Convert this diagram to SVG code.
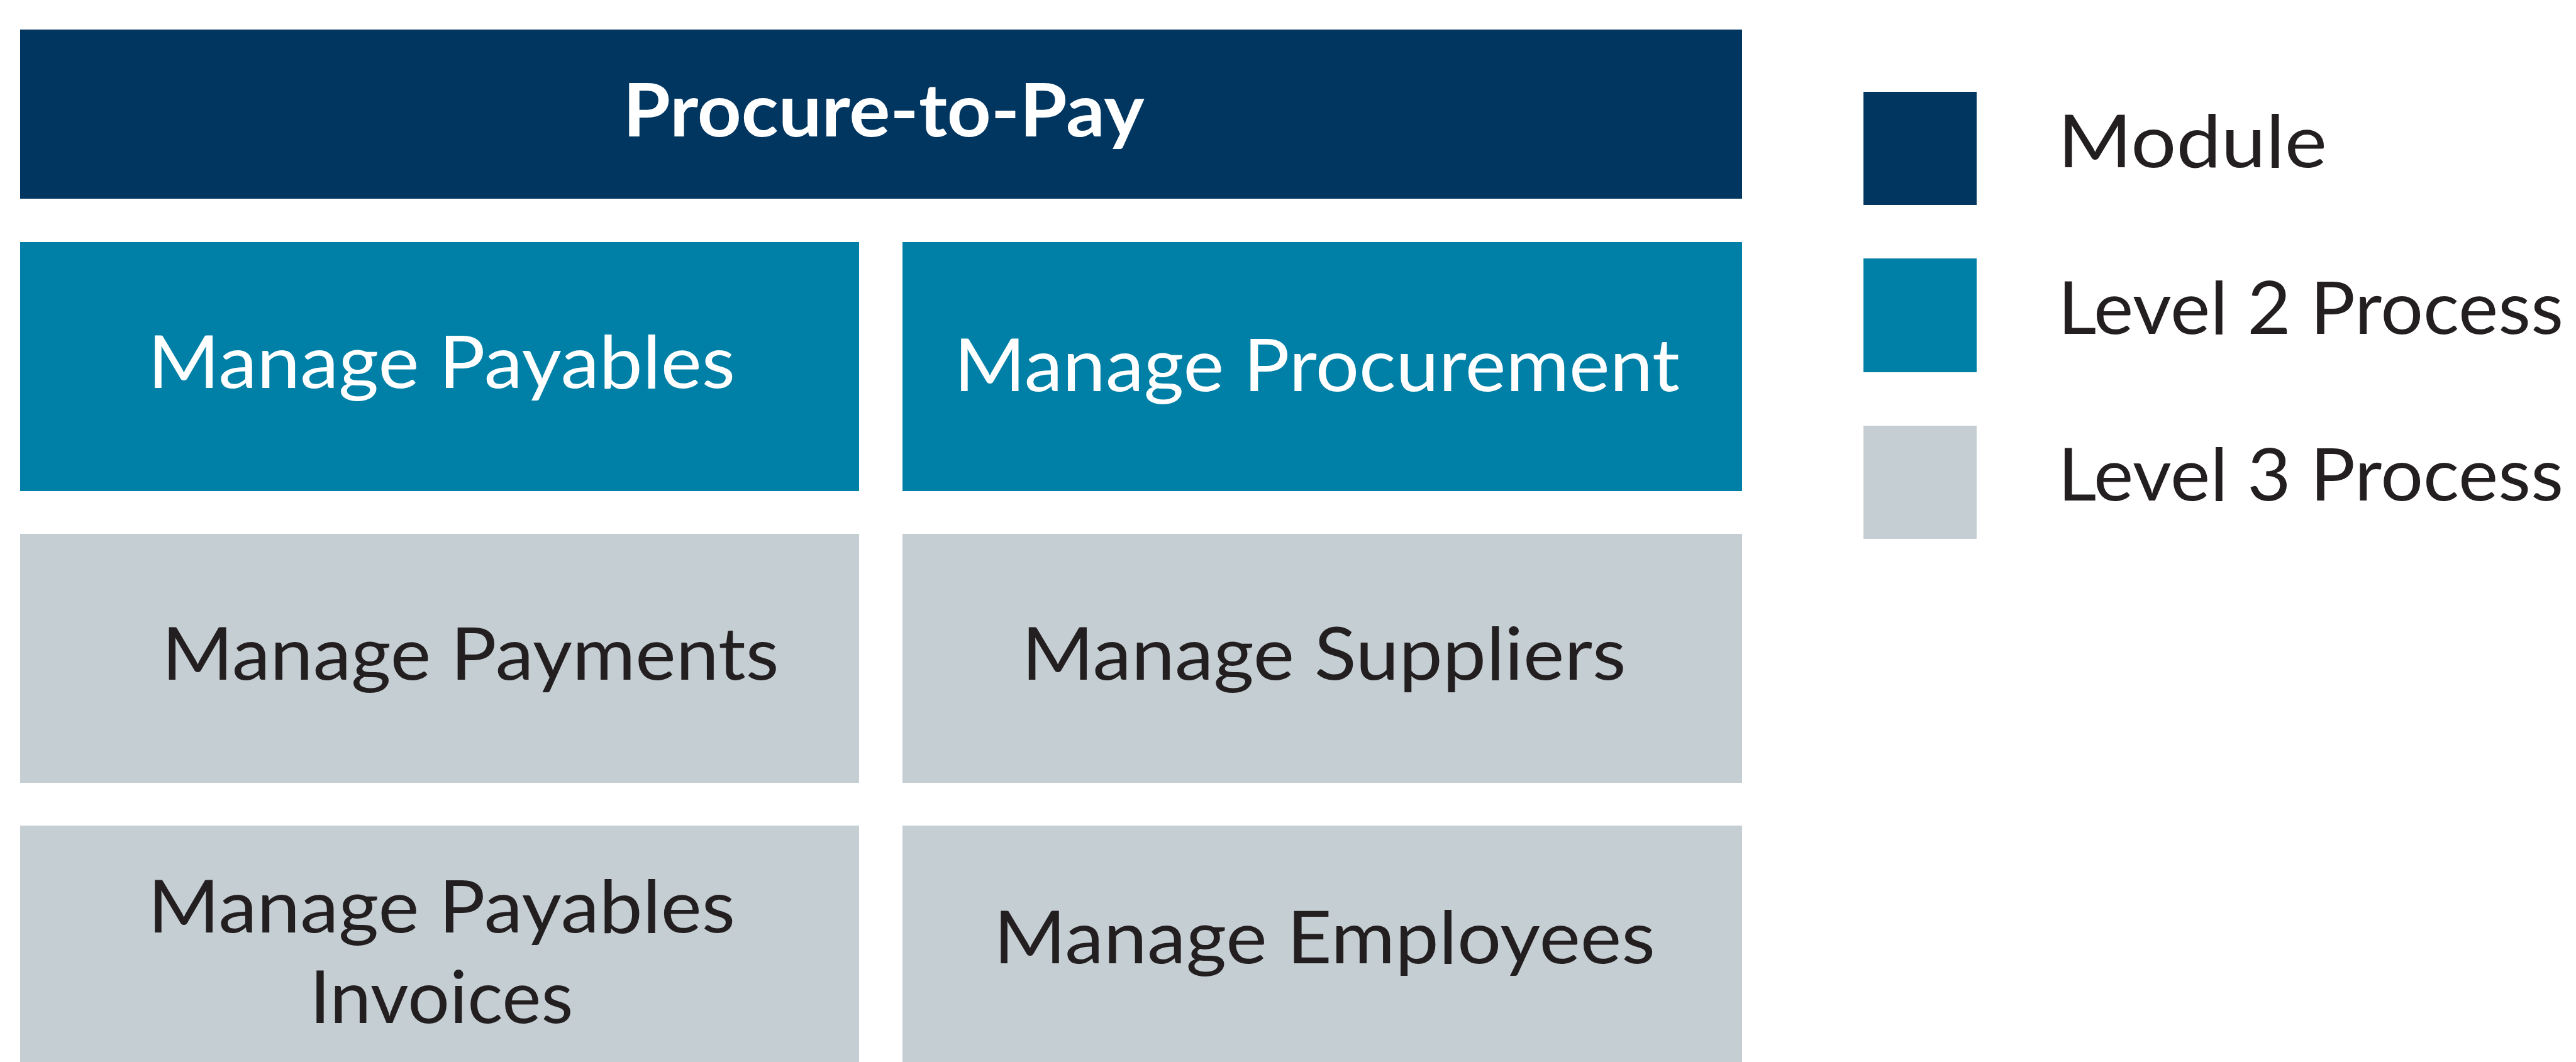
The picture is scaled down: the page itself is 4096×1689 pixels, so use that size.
<svg xmlns="http://www.w3.org/2000/svg" width="4096" height="1689" viewBox="0 0 4096 1689">
  <style>
    .module { fill: #003660; }
    .l2 { fill: #0080A6; }
    .l3 { fill: #C5CED3; }
    text { font-family: Lato, "Noto Sans", "Liberation Sans", sans-serif; font-size: 117px; }
    .title { fill: #FFFFFF; font-weight: 700; text-anchor: middle; }
    .light { fill: #FFFFFF; text-anchor: middle; }
    .dark { fill: #231F20; text-anchor: middle; }
    .legend { fill: #231F20; }
  </style>
  <rect x="0" y="0" width="4096" height="1689" fill="#FFFFFF"/>

  <g id="procure-to-pay">
    <rect class="module" x="32" y="47" width="2738" height="269"/>
    <text class="title" x="1405" y="217" textLength="829" lengthAdjust="spacingAndGlyphs">Procure-to-Pay</text>
  </g>

  <g id="manage-payables">
    <rect class="l2" x="32" y="385" width="1334" height="396"/>
    <text class="light" x="702" y="617" textLength="934" lengthAdjust="spacingAndGlyphs">Manage Payables</text>
  </g>

  <g id="manage-procurement">
    <rect class="l2" x="1435" y="385" width="1335" height="396"/>
    <text class="light" x="2094" y="622" textLength="1154" lengthAdjust="spacingAndGlyphs">Manage Procurement</text>
  </g>

  <g id="manage-payments">
    <rect class="l3" x="32" y="849" width="1334" height="396"/>
    <text class="dark" x="748" y="1081" textLength="981" lengthAdjust="spacingAndGlyphs">Manage Payments</text>
  </g>

  <g id="manage-suppliers">
    <rect class="l3" x="1435" y="849" width="1335" height="396"/>
    <text class="dark" x="2105" y="1081" textLength="961" lengthAdjust="spacingAndGlyphs">Manage Suppliers</text>
  </g>

  <g id="manage-payables-invoices">
    <rect class="l3" x="32" y="1313" width="1334" height="376"/>
    <text class="dark" x="702" y="1483" textLength="934" lengthAdjust="spacingAndGlyphs">Manage Payables</text>
    <text class="dark" x="702" y="1627" textLength="419" lengthAdjust="spacingAndGlyphs">Invoices</text>
  </g>

  <g id="manage-employees">
    <rect class="l3" x="1435" y="1313" width="1335" height="376"/>
    <text class="dark" x="2106" y="1532" textLength="1052" lengthAdjust="spacingAndGlyphs">Manage Employees</text>
  </g>

  <g id="legend">
    <rect class="module" x="2963" y="146" width="180" height="180"/>
    <text class="legend" x="3272" y="266" textLength="428" lengthAdjust="spacingAndGlyphs">Module</text>
    <rect class="l2" x="2963" y="411" width="180" height="181"/>
    <text class="legend" x="3272" y="531" textLength="804" lengthAdjust="spacingAndGlyphs">Level 2 Process</text>
    <rect class="l3" x="2963" y="677" width="180" height="180"/>
    <text class="legend" x="3272" y="796" textLength="804" lengthAdjust="spacingAndGlyphs">Level 3 Process</text>
  </g>

  <g id="connectors"></g>
</svg>
